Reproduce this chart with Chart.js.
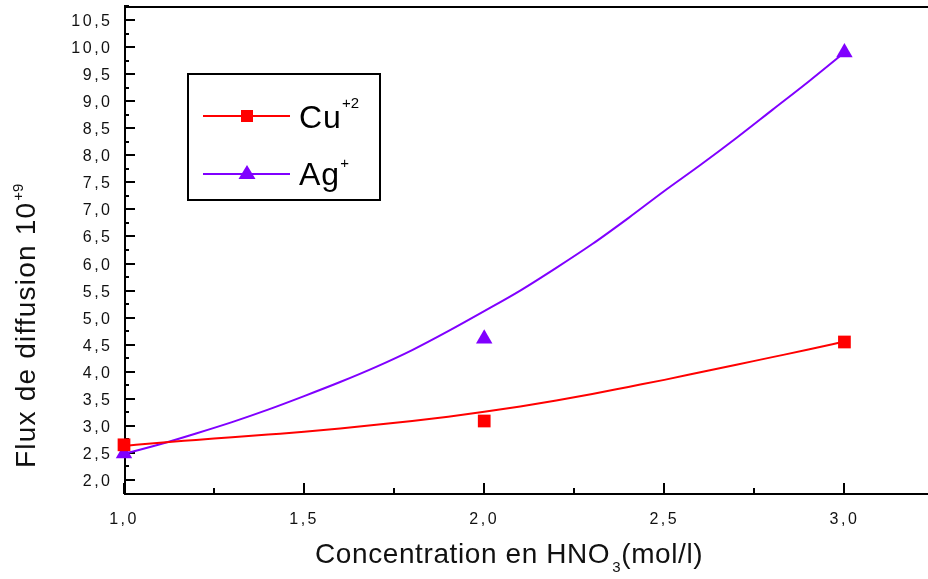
<!DOCTYPE html>
<html>
<head>
<meta charset="utf-8">
<title>Flux de diffusion</title>
<script src="https://cdn.jsdelivr.net/npm/chart.js@4.4.1/dist/chart.umd.min.js"></script>
<style>
  html, body { margin: 0; padding: 0; background: #fff; }
  #wrap { width: 928px; height: 579px; }
</style>
</head>
<body>
<div id="wrap"><canvas id="fluxChart"></canvas></div>
<script>
// measured points, concentration en HNO3 (mol/l)
const concMeasured = [1.0, 2.0, 3.0];
const cuMeasured = [2.65, 3.09, 4.55];
const agMeasured = [2.49, 4.61, 9.90];

// fitted curves, every 0.1 mol/l
const concFit = [1.0, 1.1, 1.2, 1.3, 1.4, 1.5, 1.6, 1.7, 1.8, 1.9, 2.0,
                 2.1, 2.2, 2.3, 2.4, 2.5, 2.6, 2.7, 2.8, 2.9, 3.0];
const cuFit = [2.63, 2.69, 2.74, 2.79, 2.84, 2.89, 2.95, 3.02, 3.09, 3.17, 3.26,
               3.36, 3.47, 3.59, 3.72, 3.85, 3.99, 4.13, 4.27, 4.41, 4.56];
const agFit = [2.48, 2.66, 2.86, 3.07, 3.30, 3.55, 3.81, 4.09, 4.40, 4.75, 5.12,
               5.50, 5.92, 6.36, 6.84, 7.34, 7.82, 8.32, 8.84, 9.36, 9.90];

const xTickLabels = ['1,0', '1,5', '2,0', '2,5', '3,0'];
const yTickLabels = ['2,0', '2,5', '3,0', '3,5', '4,0', '4,5', '5,0', '5,5', '6,0',
                     '6,5', '7,0', '7,5', '8,0', '8,5', '9,0', '9,5', '10,0', '10,5'];

const RED = '#ff0000';
const PURPLE = '#8000ff';
const FONT = "'Liberation Sans', Arial, sans-serif";

const pairs = (xs, ys) => xs.map((x, i) => ({ x: x, y: ys[i] }));
const toNum = s => parseFloat(s.replace(',', '.'));
const isMajor = v => Math.abs(v * 2 - Math.round(v * 2)) < 1e-6;

function putText(ctx, str, x, y, size, align, spacing) {
  ctx.font = size + 'px ' + FONT;
  ctx.letterSpacing = spacing + 'px';
  ctx.textAlign = align;
  ctx.textBaseline = 'alphabetic';
  ctx.fillText(str, x, y);
  return ctx.measureText(str).width;
}

// frame, inward ticks, labels, titles and the boxed legend
const axesDeco = {
  id: 'axesDeco',
  beforeDatasetsDraw(chart) {
    const { ctx, chartArea: a, scales: { x, y } } = chart;
    ctx.save();
    ctx.strokeStyle = '#000';
    ctx.lineWidth = 2;
    ctx.beginPath();
    ctx.moveTo(a.right, a.top + 1);
    ctx.lineTo(a.left + 1, a.top + 1);
    ctx.lineTo(a.left + 1, a.bottom);
    ctx.lineTo(a.right, a.bottom);
    y.ticks.forEach(t => {
      const py = Math.round(y.getPixelForValue(t.value));
      ctx.moveTo(a.left, py);
      ctx.lineTo(a.left + (isMajor(t.value) ? 11 : 5), py);
    });
    x.ticks.forEach(t => {
      const px = Math.round(x.getPixelForValue(t.value));
      ctx.moveTo(px, a.bottom);
      ctx.lineTo(px, a.bottom - (isMajor(t.value) ? 11 : 6));
    });
    ctx.stroke();
    ctx.restore();
  },
  afterDraw(chart) {
    const { ctx, chartArea: a, scales: { x, y } } = chart;
    ctx.save();
    ctx.fillStyle = '#111';

    yTickLabels.forEach(lbl => {
      const py = y.getPixelForValue(toNum(lbl));
      putText(ctx, lbl, a.left - 11.5, py + 6, 16, 'right', 2.5);
    });
    xTickLabels.forEach(lbl => {
      const px = x.getPixelForValue(toNum(lbl));
      putText(ctx, lbl, px, a.bottom + 29.5, 16, 'center', 2.5);
    });

    // x title with subscript
    let cx = 315;
    cx += putText(ctx, 'Concentration en HNO', cx, 563, 28, 'left', 0.6);
    putText(ctx, '3', cx + 2, 572, 15, 'left', 0);
    putText(ctx, '(mol/l)', cx + 11, 563, 28, 'left', 0.6);

    // y title with exponent
    ctx.save();
    ctx.translate(35, 468);
    ctx.rotate(-Math.PI / 2);
    const w = putText(ctx, 'Flux de diffusion 10', 0, 0, 28, 'left', 1.2);
    putText(ctx, '+9', w + 1, -12, 15, 'left', 0);
    ctx.restore();

    // legend box
    ctx.strokeStyle = '#000';
    ctx.lineWidth = 2;
    ctx.strokeRect(188, 74, 192, 126);

    ctx.lineWidth = 2;
    ctx.strokeStyle = RED;
    ctx.beginPath(); ctx.moveTo(203, 116); ctx.lineTo(290, 116); ctx.stroke();
    ctx.fillStyle = RED;
    ctx.fillRect(241, 110, 12, 12);

    ctx.strokeStyle = PURPLE;
    ctx.beginPath(); ctx.moveTo(203, 174); ctx.lineTo(290, 174); ctx.stroke();
    ctx.fillStyle = PURPLE;
    ctx.beginPath();
    ctx.moveTo(247, 165); ctx.lineTo(255.5, 179); ctx.lineTo(238.5, 179);
    ctx.closePath(); ctx.fill();

    ctx.fillStyle = '#000';
    let lx = 299;
    lx += putText(ctx, 'Cu', lx, 128, 32, 'left', 1);
    putText(ctx, '+2', lx, 108, 15, 'left', 0);
    lx = 299;
    lx += putText(ctx, 'Ag', lx, 185, 32, 'left', 1);
    putText(ctx, '+', lx, 168, 15, 'left', 0);

    ctx.restore();
  }
};

new Chart(document.getElementById('fluxChart'), {
  type: 'line',
  data: {
    datasets: [
      {
        label: 'Cu+2 fit',
        data: pairs(concFit, cuFit),
        borderColor: RED,
        borderWidth: 2,
        pointRadius: 0,
        cubicInterpolationMode: 'monotone',
        clip: false
      },
      {
        label: 'Ag+ fit',
        data: pairs(concFit, agFit),
        borderColor: PURPLE,
        borderWidth: 2,
        pointRadius: 0,
        cubicInterpolationMode: 'monotone',
        clip: false
      },
      {
        label: 'Cu+2',
        data: pairs(concMeasured, cuMeasured),
        showLine: false,
        pointStyle: 'rect',
        pointRadius: 9,
        pointBorderWidth: 0,
        pointBackgroundColor: RED,
        clip: false
      },
      {
        label: 'Ag+',
        data: pairs(concMeasured, agMeasured),
        showLine: false,
        pointStyle: 'triangle',
        pointRadius: 9.5,
        pointBorderWidth: 0,
        pointBackgroundColor: PURPLE,
        clip: false
      }
    ]
  },
  options: {
    responsive: true,
    maintainAspectRatio: false,
    animation: false,
    events: [],
    layout: { autoPadding: false, padding: { top: 6, left: 0, right: 0, bottom: 0 } },
    plugins: {
      legend: { display: false },
      tooltip: { enabled: false }
    },
    scales: {
      x: {
        type: 'linear',
        min: 1.0,
        max: 3.232,
        grid: { display: false },
        border: { display: false },
        ticks: { stepSize: 0.25, includeBounds: false, display: false },
        afterFit: s => { s.height = 85; }
      },
      y: {
        type: 'linear',
        min: 1.741,
        max: 10.759,
        grid: { display: false },
        border: { display: false },
        ticks: { stepSize: 0.25, includeBounds: false, display: false },
        afterFit: s => { s.width = 124; }
      }
    }
  },
  plugins: [axesDeco]
});
</script>
</body>
</html>
